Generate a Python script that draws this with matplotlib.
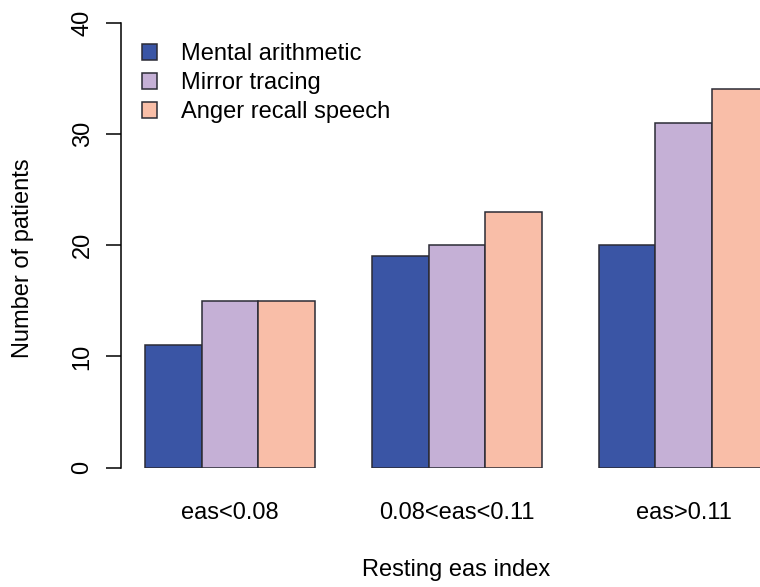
import numpy as np
import matplotlib
matplotlib.use("Agg")
import matplotlib.pyplot as plt

plt.rcParams['font.family'] = ['Liberation Sans', 'DejaVu Sans']

groups = ['eas<0.08', '0.08<eas<0.11', 'eas>0.11']
series = ['Mental arithmetic', 'Mirror tracing', 'Anger recall speech']
mental = [11, 19, 20]
mirror = [15, 20, 31]
anger = [15, 23, 34]
colors = ['#3A55A5', '#C5B0D6', '#F9BEA8']

W, H = 760, 587
fig = plt.figure(figsize=(W / 100, H / 100), dpi=100)

# R barplot(beside=TRUE) layout: bar width 1, gap of 1 between groups
px_per_unit = 56.7
x0 = 0.571
x1 = 12.6
left_px, bottom_px = 120.7, 467.7
top_px = 22.7
ax = fig.add_axes([left_px / W, 1 - bottom_px / H,
                   (x1 - x0) * px_per_unit / W, (bottom_px - top_px) / H])

n = len(groups)
starts = np.arange(n) * 4 + 1
for i, (vals, name) in enumerate(zip([mental, mirror, anger], series)):
    ax.bar(starts + i, vals, width=1, align='edge', color=colors[i],
           edgecolor='#2b2b35', linewidth=1.1, label=name)

fs = 17
ax.set_xlim(x0, x1)
ax.set_ylim(0, 40)
for s in ['top', 'right', 'bottom']:
    ax.spines[s].set_visible(False)
ax.spines['left'].set_bounds(0, 40)
ax.spines['left'].set_linewidth(1.1)
ax.set_yticks([0, 10, 20, 30, 40])
ax.tick_params(axis='y', length=10.5, width=1.1, pad=9, labelsize=fs,
               labelrotation=90)
for lab in ax.get_yticklabels():
    lab.set_va('center')
ax.set_xticks(starts + 1.5)
ax.set_xticklabels(groups)
ax.tick_params(axis='x', length=0, pad=25, labelsize=fs)

fig.text(456 / W, 1 - 570 / H, 'Resting eas index', ha='center', va='center',
         fontsize=fs)
fig.text(23 / W, 1 - 258 / H, 'Number of patients', ha='center', va='center',
         rotation=90, fontsize=fs)

ax.legend(loc='upper left', bbox_to_anchor=(142 / W, 1 - 43 / H),
          bbox_transform=fig.transFigure, frameon=False, fontsize=fs,
          handlelength=0.64, handleheight=0.64, handletextpad=1.0,
          labelspacing=0.3, borderpad=0, borderaxespad=0)

fig.savefig('out.png', dpi=100)
